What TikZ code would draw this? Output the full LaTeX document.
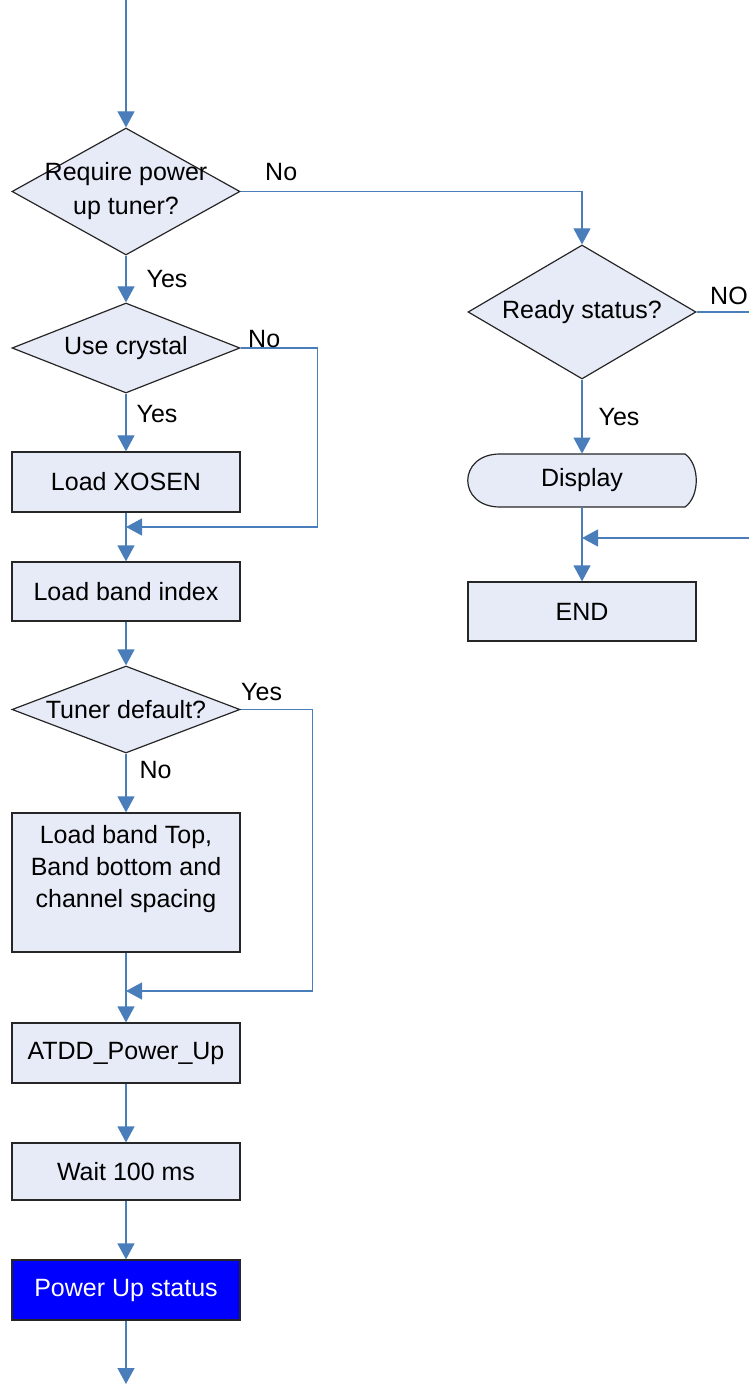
\documentclass[tikz,border=0pt]{standalone}
\usepackage{fontspec}
\setmainfont{Liberation Sans}
\usetikzlibrary{arrows.meta,shapes.geometric,calc,positioning}

\definecolor{boxfill}{RGB}{230,235,247}
\definecolor{flowline}{RGB}{74,126,187}
\definecolor{statusblue}{RGB}{0,0,255}

\tikzset{
  process/.style={draw=black!85, fill=boxfill, line width=0.6pt,
    minimum width=114pt, minimum height=30pt, inner sep=0pt, align=center},
  decision/.style={diamond, draw=black!85, fill=boxfill, line width=0.6pt,
    minimum width=114pt, inner sep=0pt},
  flow/.style={draw=flowline, line width=0.6pt, -{Triangle[width=8.5pt,length=8pt]}},
  wire/.style={draw=flowline, line width=0.6pt},
  lbl/.style={inner sep=0pt},
  every label/.style={align=center, inner sep=0pt}
}

\begin{document}
\begin{tikzpicture}[x=0.5pt, y=-0.5pt, font=\fontsize{12.5}{16}\selectfont]
    \useasboundingbox (0,0) rectangle (749,1384);

    % left column
    \coordinate (in) at (126,0);
    \node[decision, minimum height=63.5pt,
      label={[font=\fontsize{12.5}{17}\selectfont]center:{Require power\\up tuner?}}] (q1) at (126,191.5) {};
    \node[decision, minimum height=45pt, label=center:{Use crystal}] (crystal) at (126,348) {};
    \node[process] (xosen) at (126,482) {Load XOSEN};
    \coordinate (join1) at (126,527);
    \node[process, minimum height=29.5pt] (bandidx) at (126,591.5) {Load band index};
    \node[decision, minimum height=43.5pt, label=center:{Tuner default?}] (tdef) at (126,709.5) {};
    \node[process, minimum height=69.5pt] (loadtop) at (126,882.5) {Load band Top,\\Band bottom and\\channel spacing\\\mbox{}};
    \coordinate (join2) at (126,991);
    \node[process] (atdd) at (126,1053) {ATDD\_Power\_Up};
    \node[process, minimum height=28.5pt] (wait) at (126,1171.5) {Wait 100 ms};
    \node[process, fill=statusblue, text=white] (pwr) at (126,1290) {Power Up status};
    \coordinate (out) at (126,1384);

    % right column
    \node[decision, minimum height=67pt, label=center:{Ready status?}] (ready) at (582,312) {};
    \coordinate (noexit) at (749,312);
    \coordinate (dispc) at (582,480.5);
    \filldraw[draw=black!85, fill=boxfill, line width=0.6pt]
      ($(dispc)+(-82,-26.5)$) -- ($(dispc)+(103,-26.5)$)
      .. controls ($(dispc)+(118,-16)$) and ($(dispc)+(118,16)$) .. ($(dispc)+(103,26.5)$)
      -- ($(dispc)+(-82,26.5)$)
      .. controls ($(dispc)+(-125,26.5)$) and ($(dispc)+(-125,-26.5)$) .. cycle;
    \node[minimum width=114pt, minimum height=26.5pt, inner sep=0pt] (disp) at (dispc) {Display};
    \coordinate (join3) at (582,538);
    \coordinate (loopin) at (749,538);
    \node[process, minimum height=29.5pt] (endbox) at (582,611.5) {END};

    \draw[flow] (in) -- (q1);
    \draw[flow] (q1) -- node[lbl, right=10pt, midway] {Yes} (crystal);
    \draw[flow] (q1.east) node[lbl, above right=5pt and 12pt] {No} -| (ready);
    \draw[flow] (crystal) -- node[lbl, right=5pt, pos=0.35] {Yes} (xosen);
    \draw[flow] (crystal.east) node[lbl, above right=0pt and 3.5pt] {No} -- ++(77,0) |- (join1);
    \draw[flow] (xosen) -- (bandidx);
    \draw[flow] (bandidx) -- (tdef);
    \draw[flow] (tdef) -- node[lbl, right=6.5pt, pos=0.28] {No} (loadtop);
    \draw[flow] (tdef.east) node[lbl, above right=4pt and 0pt] {Yes} -- ++(72,0) |- (join2);
    \draw[flow] (loadtop) -- (atdd);
    \draw[flow] (atdd) -- (wait);
    \draw[flow] (wait) -- (pwr);
    \draw[flow] (pwr) -- (out);

    \draw[wire] (ready.east) node[lbl, above right=3.5pt and 6.5pt] {NO} -- (noexit);
    \draw[flow] (ready) -- node[lbl, right=8pt, midway] {Yes} (disp);
    \draw[flow] (disp) -- (endbox);
    \draw[flow] (loopin) -- (join3);
\end{tikzpicture}
\end{document}
